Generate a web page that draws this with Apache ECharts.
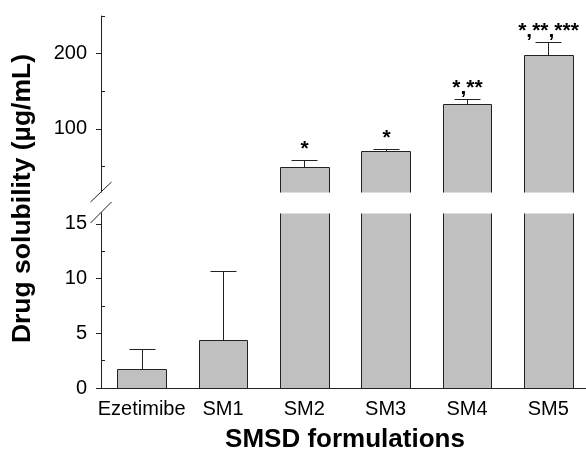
<!DOCTYPE html>
<html><head><meta charset="utf-8">
<script src="https://cdn.jsdelivr.net/npm/echarts@6/dist/echarts.min.js"></script>
<style>html,body{margin:0;padding:0;background:#fff}#c{width:586px;height:451px}</style>
</head><body><div id="c"></div>
<script>
const categories = ['Ezetimibe', 'SM1', 'SM2', 'SM3', 'SM4', 'SM5'];
const means = [1.7, 4.4, 49, 70.7, 133.3, 198.7];
const sds = [1.9, 6.3, 10, 2.6, 6.3, 16.3];
const significance = ['', '', '*', '*', '*,**', '*,**,***'];
const lowerTicks = [0, 5, 10, 15];
const lowerMinorTicks = [2.5, 7.5, 12.5];
const upperTicks = [100, 200];
const upperMinorTicks = [50, 150, 250];
const LOW_MIN = 0, LOW_MAX = 16, UP_MIN = 16, UP_MAX = 250;

const FONT = '"Liberation Sans", Arial, sans-serif';
const AX = '#222';
const FILL = '#c0c0c0';
const EDGE = '#222';

const rows = means.map((m, i) => [i, m, sds[i]]);

function barLower(params, api) {
  const i = api.value(0), v = api.value(1);
  if (v <= LOW_MIN) return null;
  const vt = Math.min(v, LOW_MAX);
  const t = api.coord([i, vt]), b = api.coord([i, LOW_MIN]);
  const w = api.size([1, 0])[0] * 0.6;
  const x0 = Math.round(t[0] - w / 2) + 0.5, x1 = Math.round(t[0] + w / 2) + 0.5;
  const yt = Math.round(t[1]) + 0.5, yb = Math.round(b[1]) + 0.5;
  const children = [
    { type: 'rect', shape: { x: x0, y: yt, width: x1 - x0, height: yb - yt }, style: { fill: FILL } }
  ];
  if (v <= LOW_MAX) children.push({ type: 'polygon', shape: { points: [[x0, yb], [x0, yt], [x1, yt], [x1, yb]] }, style: { fill: null, stroke: EDGE, lineWidth: 1 } });
  else children.push({ type: 'polyline', shape: { points: [[x0, yt], [x0, yb], [x1, yb], [x1, yt]] }, style: { fill: null, stroke: EDGE, lineWidth: 1 } });
  return { type: 'group', children };
}
function barUpper(params, api) {
  const i = api.value(0), v = api.value(1);
  if (v <= UP_MIN) return null;
  const t = api.coord([i, v]), b = api.coord([i, UP_MIN]);
  const w = api.size([1, 0])[0] * 0.6;
  const x0 = Math.round(t[0] - w / 2) + 0.5, x1 = Math.round(t[0] + w / 2) + 0.5;
  const yt = Math.round(t[1]) + 0.5, yb = Math.round(b[1]) + 0.5;
  return { type: 'group', children: [
    { type: 'rect', shape: { x: x0, y: yt, width: x1 - x0, height: yb - yt }, style: { fill: FILL } },
    { type: 'polyline', shape: { points: [[x0, yb], [x0, yt], [x1, yt], [x1, yb]] }, style: { fill: null, stroke: EDGE, lineWidth: 1 } }
  ]};
}
function errMaker(inUpper) {
  return function (params, api) {
    const i = api.value(0), v = api.value(1), s = api.value(2);
    const up = v > UP_MIN;
    if (up !== inUpper) return null;
    const a = api.coord([i, v]), e = api.coord([i, v + s]);
    const cx = Math.round(a[0]) + 0.5;
    const ya = Math.round(a[1]) + 0.5, ye = Math.round(e[1]) + 0.5;
    const cap = 13;
    const children = [
      { type: 'line', shape: { x1: cx, y1: ya, x2: cx, y2: ye }, style: { stroke: EDGE, lineWidth: 1 } },
      { type: 'line', shape: { x1: cx - cap, y1: ye, x2: cx + cap, y2: ye }, style: { stroke: EDGE, lineWidth: 1 } }
    ];
    const lab = significance[params.dataIndex];
    if (lab) children.push({ type: 'text', style: { text: lab, x: cx, y: ye - 1, align: 'center', verticalAlign: 'bottom', font: 'bold 21px ' + FONT, fill: '#000' } });
    return { type: 'group', children };
  };
}

const chart = echarts.init(document.getElementById('c'), null, { renderer: 'canvas' });
chart.setOption({
  animation: false,
  backgroundColor: '#fff',
  textStyle: { fontFamily: FONT },
  grid: [
    { left: 101, width: 488, top: 16, height: 176, outerBoundsMode: 'none', containLabel: false },
    { left: 101, width: 488, top: 213, height: 175, outerBoundsMode: 'none', containLabel: false }
  ],
  xAxis: [
    { type: 'category', gridIndex: 0, data: categories, show: false },
    { type: 'category', gridIndex: 1, data: categories,
      axisLine: { lineStyle: { color: AX, width: 1 } },
      axisTick: { alignWithLabel: true, length: 5, lineStyle: { color: AX } },
      axisLabel: { interval: 0, color: '#000', fontSize: 20, fontFamily: FONT, margin: 11 },
      name: 'SMSD formulations', nameLocation: 'middle', nameGap: 39,
      nameTextStyle: { fontSize: 26, fontWeight: 'bold', color: '#000', fontFamily: FONT } }
  ],
  yAxis: [
    { type: 'value', gridIndex: 0, position: 'left', min: UP_MIN, max: UP_MAX, splitLine: { show: false },
      axisLine: { show: true, lineStyle: { color: AX } },
      axisTick: { show: true, length: 5, customValues: upperTicks, lineStyle: { color: AX } },
      axisLabel: { customValues: upperTicks, fontSize: 20, color: '#000', fontFamily: FONT, margin: 14 } },
    { type: 'value', gridIndex: 0, position: 'left', min: UP_MIN, max: UP_MAX, splitLine: { show: false },
      axisLine: { show: false },
      axisTick: { show: true, inside: true, length: 4, customValues: upperMinorTicks, lineStyle: { color: AX } },
      axisLabel: { show: false } },
    { type: 'value', gridIndex: 1, position: 'left', min: LOW_MIN, max: LOW_MAX, splitLine: { show: false },
      axisLine: { show: true, lineStyle: { color: AX } },
      axisTick: { show: true, length: 5, customValues: lowerTicks, lineStyle: { color: AX } },
      axisLabel: { customValues: lowerTicks, fontSize: 20, color: '#000', fontFamily: FONT, margin: 14 } },
    { type: 'value', gridIndex: 1, position: 'left', min: LOW_MIN, max: LOW_MAX, splitLine: { show: false },
      axisLine: { show: false },
      axisTick: { show: true, inside: true, length: 4, customValues: lowerMinorTicks, lineStyle: { color: AX } },
      axisLabel: { show: false } }
  ],
  graphic: [
    { type: 'text', left: 9, top: 54, rotation: Math.PI / 2,
      style: { text: 'Drug solubility (µg/mL)', font: 'bold 26.5px ' + FONT, fill: '#000' } },
    { type: 'line', shape: { x1: 90.5, y1: 202, x2: 111.5, y2: 182 }, style: { stroke: AX, lineWidth: 1 } },
    { type: 'line', shape: { x1: 90.5, y1: 223, x2: 111.5, y2: 202 }, style: { stroke: AX, lineWidth: 1 } }
  ],
  series: [
    { type: 'custom', xAxisIndex: 0, yAxisIndex: 0, data: rows, renderItem: barUpper, clip: false },
    { type: 'custom', xAxisIndex: 1, yAxisIndex: 2, data: rows, renderItem: barLower, clip: false },
    { type: 'custom', xAxisIndex: 0, yAxisIndex: 0, data: rows, renderItem: errMaker(true), clip: false },
    { type: 'custom', xAxisIndex: 1, yAxisIndex: 2, data: rows, renderItem: errMaker(false), clip: false }
  ]
});
</script></body></html>
